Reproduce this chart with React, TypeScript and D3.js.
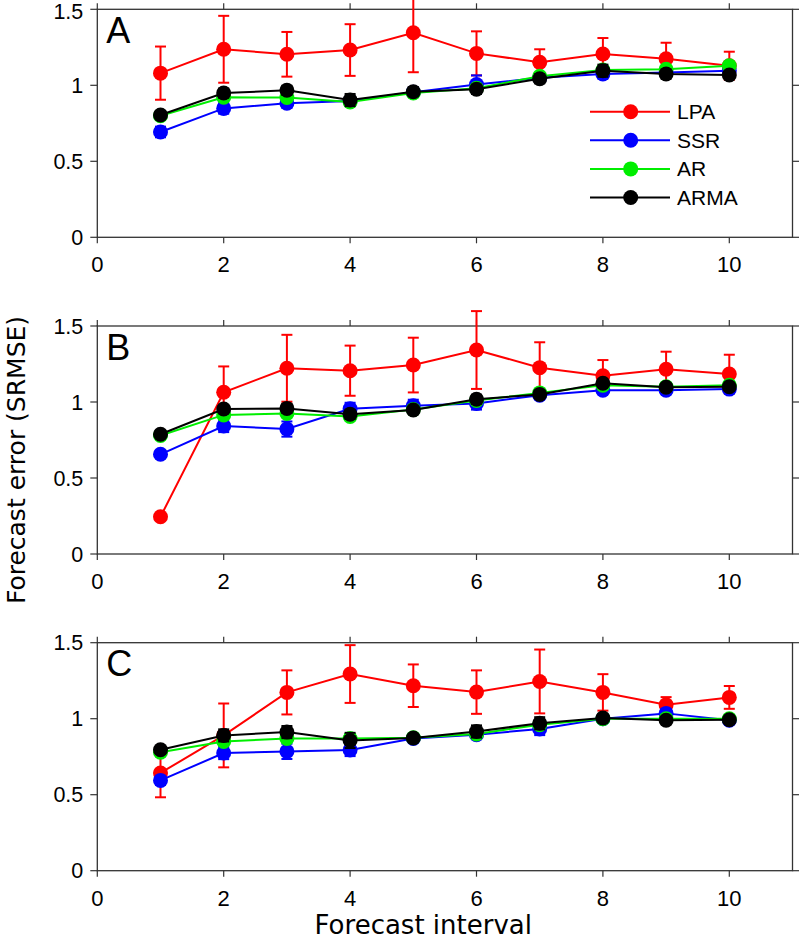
import React from "react";
import * as d3 from "d3";

const intervals = [1, 2, 3, 4, 5, 6, 7, 8, 9, 10];
const seriesNames = ["LPA", "SSR", "AR", "ARMA"];
const seriesColors = ["#ff0000", "#0000ff", "#00ee00", "#000000"];
const panelLabels = ["A", "B", "C"];
const xTicks = [0, 2, 4, 6, 8, 10];
const yTicks = [0, 0.5, 1, 1.5];
const yTickLabels = ["0", "0.5", "1", "1.5"];

// Panel A
const aLPA = [1.08, 1.237, 1.204, 1.232, 1.346, 1.21, 1.151, 1.206, 1.175, 1.129];
const aLPAerr = [0.175, 0.22, 0.147, 0.17, 0.26, 0.145, 0.086, 0.105, 0.105, 0.092];
const aSSR = [0.693, 0.848, 0.882, 0.897, 0.955, 1.005, 1.05, 1.075, 1.085, 1.095];
const aSSRerr = [0.035, 0.035, 0.03, 0.02, 0.02, 0.06, 0.02, 0.03, 0.02, 0.02];
const aAR = [0.8, 0.921, 0.92, 0.89, 0.95, 0.98, 1.06, 1.1, 1.105, 1.128];
const aARerr = [0.02, 0.02, 0.02, 0.02, 0.02, 0.02, 0.02, 0.02, 0.02, 0.02];
const aARMA = [0.805, 0.949, 0.967, 0.903, 0.958, 0.974, 1.043, 1.096, 1.074, 1.068];
const aARMAerr = [0.02, 0.03, 0.03, 0.04, 0.03, 0.03, 0.03, 0.04, 0.03, 0.02];

// Panel B
const bLPA = [0.245, 1.064, 1.222, 1.206, 1.243, 1.342, 1.226, 1.173, 1.215, 1.184];
const bLPAerr = [0.0, 0.17, 0.22, 0.165, 0.18, 0.256, 0.167, 0.103, 0.116, 0.127];
const bSSR = [0.656, 0.842, 0.822, 0.955, 0.975, 0.99, 1.045, 1.078, 1.078, 1.085];
const bSSRerr = [0.02, 0.04, 0.05, 0.04, 0.04, 0.04, 0.02, 0.02, 0.02, 0.02];
const bAR = [0.78, 0.915, 0.925, 0.905, 0.95, 1.01, 1.06, 1.11, 1.1, 1.11];
const bARerr = [0.02, 0.02, 0.02, 0.02, 0.02, 0.02, 0.02, 0.02, 0.02, 0.02];
const bARMA = [0.788, 0.954, 0.958, 0.919, 0.947, 1.018, 1.05, 1.123, 1.097, 1.1];
const bARMAerr = [0.02, 0.02, 0.03, 0.03, 0.02, 0.03, 0.02, 0.02, 0.02, 0.02];

// Panel C
const cLPA = [0.643, 0.89, 1.173, 1.294, 1.217, 1.175, 1.245, 1.173, 1.092, 1.14];
const cLPAerr = [0.16, 0.21, 0.145, 0.19, 0.14, 0.143, 0.21, 0.12, 0.05, 0.075];
const cSSR = [0.594, 0.774, 0.785, 0.794, 0.87, 0.895, 0.932, 1.0, 1.035, 0.99];
const cSSRerr = [0.03, 0.04, 0.05, 0.04, 0.02, 0.03, 0.04, 0.02, 0.03, 0.02];
const cAR = [0.78, 0.85, 0.87, 0.87, 0.875, 0.9, 0.96, 1.0, 1.0, 1.0];
const cARerr = [0.02, 0.02, 0.02, 0.03, 0.02, 0.02, 0.02, 0.02, 0.02, 0.02];
const cARMA = [0.796, 0.89, 0.912, 0.857, 0.873, 0.916, 0.97, 1.005, 0.99, 0.993];
const cARMAerr = [0.02, 0.04, 0.04, 0.05, 0.02, 0.04, 0.04, 0.02, 0.02, 0.02];

const panels = [
  { values: [aLPA, aSSR, aAR, aARMA], errors: [aLPAerr, aSSRerr, aARerr, aARMAerr] },
  { values: [bLPA, bSSR, bAR, bARMA], errors: [bLPAerr, bSSRerr, bARerr, bARMAerr] },
  { values: [cLPA, cSSR, cAR, cARMA], errors: [cLPAerr, cSSRerr, cARerr, cARMAerr] },
];

const W = 799;
const H = 939;
const left = 97.3;
const right = 792.5;
const panelTops = [9.3, 326, 642.7];
const panelH = 228;
const tickFont = "Liberation Sans, Arial, sans-serif";
const titleFont = "DejaVu Sans, sans-serif";

const x = d3.scaleLinear().domain([0, 11]).range([left, right]);

function Panel({ idx }: { idx: number }) {
  const top = panelTops[idx];
  const y = d3.scaleLinear().domain([0, 1.5]).range([top + panelH, top]);
  const p = panels[idx];
  const line = d3
    .line<number>()
    .x((_, i) => x(intervals[i]))
    .y((v) => y(v));
  const axisColor = "#333";
  const r = 7.5;
  return (
    <g>
      <rect x={left} y={top} width={right - left} height={panelH} fill="none" stroke={axisColor} strokeWidth={1.3} />
      {xTicks.map((t) => (
        <g key={"xt" + t}>
          <line x1={x(t)} x2={x(t)} y1={top + panelH} y2={top + panelH + 6} stroke={axisColor} strokeWidth={1.2} />
          <line x1={x(t)} x2={x(t)} y1={top} y2={top - 6} stroke={axisColor} strokeWidth={1.2} />
          <text
            x={x(t)}
            y={top + panelH + 35}
            textAnchor="middle"
            fontFamily={tickFont}
            fontSize={22}
            fill="#000"
          >
            {t}
          </text>
        </g>
      ))}
      {yTicks.map((t, i) => (
        <g key={"yt" + t}>
          <line x1={left} x2={left - 7} y1={y(t)} y2={y(t)} stroke={axisColor} strokeWidth={1.2} />
          <line x1={right} x2={right + 7} y1={y(t)} y2={y(t)} stroke={axisColor} strokeWidth={1.2} />
          <text
            x={left - 14}
            y={Math.max(y(t) + 7.5, 19)}
            textAnchor="end"
            fontFamily={tickFont}
            fontSize={21.5}
            fill="#000"
          >
            {yTickLabels[i]}
          </text>
        </g>
      ))}
      <text x={left + 9} y={top + 33.5} fontFamily={tickFont} fontSize={36} fill="#000">
        {panelLabels[idx]}
      </text>
      {p.values.map((vals, s) => (
        <g key={"s" + s}>
          {vals.map((v, i) =>
            p.errors[s][i] > 0 ? (
              <g key={"e" + i} stroke={seriesColors[s]} strokeWidth={2}>
                <line x1={x(intervals[i])} x2={x(intervals[i])} y1={y(v - p.errors[s][i])} y2={y(v + p.errors[s][i])} />
                <line x1={x(intervals[i]) - 5.5} x2={x(intervals[i]) + 5.5} y1={y(v - p.errors[s][i])} y2={y(v - p.errors[s][i])} />
                <line x1={x(intervals[i]) - 5.5} x2={x(intervals[i]) + 5.5} y1={y(v + p.errors[s][i])} y2={y(v + p.errors[s][i])} />
              </g>
            ) : null
          )}
          <path d={line(vals) || ""} fill="none" stroke={seriesColors[s]} strokeWidth={2} />
          {vals.map((v, i) => (
            <circle key={"c" + i} cx={x(intervals[i])} cy={y(v)} r={r} fill={seriesColors[s]} />
          ))}
        </g>
      ))}
      {idx === 0 && (
        <g>
          {seriesNames.map((n, s) => {
            const ly = 111.7 + s * 28.6;
            return (
              <g key={"l" + n}>
                <line x1={590} x2={670} y1={ly} y2={ly} stroke={seriesColors[s]} strokeWidth={2} />
                <circle cx={630.7} cy={ly} r={r} fill={seriesColors[s]} />
                <text x={677} y={ly + 7.5} fontFamily={tickFont} fontSize={21} fill="#000">
                  {n}
                </text>
              </g>
            );
          })}
        </g>
      )}
    </g>
  );
}

export default function App() {
  return (
    <svg
      width={W}
      height={H}
      style={{ position: "absolute", left: 0, top: 0, display: "block", background: "#fff" }}
    >
      <rect x={0} y={0} width={W} height={H} fill="#fff" />
      {[0, 1, 2].map((i) => (
        <Panel key={i} idx={i} />
      ))}
      <text
        x={(x(0) + x(10)) / 2 + 10}
        y={934}
        textAnchor="middle"
        fontFamily={titleFont}
        fontSize={26}
        fill="#000"
      >
        Forecast interval
      </text>
      <text
        transform={`translate(25, 460) rotate(-90)`}
        textAnchor="middle"
        fontFamily={titleFont}
        fontSize={25}
        fill="#000"
      >
        Forecast error (SRMSE)
      </text>
    </svg>
  );
}
